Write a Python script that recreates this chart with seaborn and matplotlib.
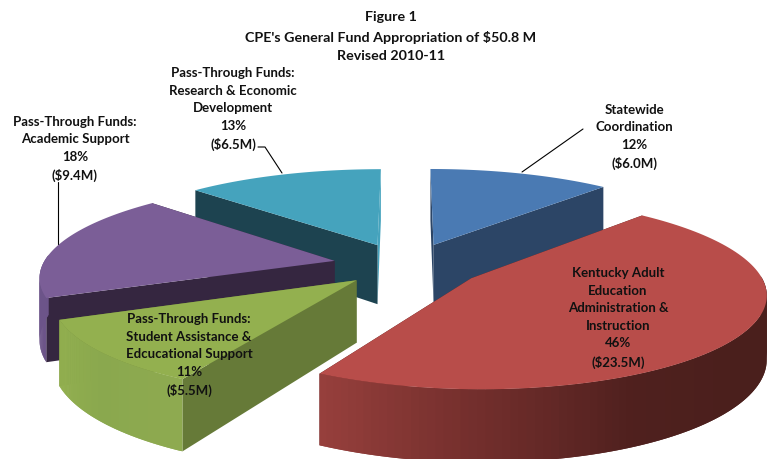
import numpy as np
import seaborn as sns
from matplotlib import pyplot as plt

names = ["Statewide\nCoordination", "Kentucky Adult\nEducation\nAdministration &\nInstruction",
         "Pass-Through Funds:\nStudent Assistance &\nEdcucational Support", "Pass-Through Funds:\nAcademic Support",
         "Pass-Through Funds:\nResearch & Economic\nDevelopment"]
millions = [6.0, 23.5, 5.5, 9.4, 6.5]
percents = [12, 46, 11, 18, 13]

top_colors = ["#4a7ab3", "#b84d4a", "#93b04f", "#7b5e97", "#45a3bd"]
wall_colors = ["#2c4566", "#4a1f1c", "#667a38", "#352640", "#1d4350"]
end_wall_colors = ["#2c4566", "#4a1f1c", "#667a38", "#352640", "#45a3bd"]
arc_colors = [["#2c4566", "#2c4566"],
              ["#4a1f1c", "#4a1f1c", "#4a1f1c", "#4a1f1c", "#4f201e", "#722e2c", "#963f3c"],
              ["#8eaa50", "#8aa84e", "#93b04f"], ["#6c5489", "#6c5489"], ["#1d4350", "#1d4350"]]
draw_order = [4, 0, 3, 2, 1]
shifts = [3, 7, 4, -3, -2]
sizes = [1, 0.975, 1, 1, 1]
label_pos = [(634, 137), (618, 318), (189, 355), (75, 149), (233, 109)]

# projection of the tilted pie, in pixels
cx, cy = 406, 266
radius, tilt, persp = 292, 0.318, 0.15
explode, depth = 0.24, 61


def project(angle, r, mid, shift):
    x = explode * np.sin(mid) + r * np.sin(angle)
    y = explode * np.cos(mid) + r * np.cos(angle)
    w = 1 + persp * y
    return cx + shift + radius * x / w, cy - radius * tilt * y / w, depth / w


def wall(ax, p, q, color):
    ax.fill([p[0], q[0], q[0], p[0]], [p[1], q[1], q[1] + q[2], p[1] + p[2]],
            color=color, lw=0)


def draw_slice(ax, start, end, i):
    mid = (start + end) / 2
    angles = np.linspace(start, end, 120)
    apex = project(0, 0, mid, shifts[i])
    edge = [project(a, sizes[i], mid, shifts[i]) for a in angles]

    wall(ax, apex, edge[-1], end_wall_colors[i])
    wall(ax, apex, edge[0], wall_colors[i])
    shades = sns.blend_palette(arc_colors[i], len(edge) - 1)
    # only the front of the rim shows, each strip reaches over the next so no seams
    for j in range(len(edge) - 1):
        if np.cos(angles[j]) < 0.05:
            wall(ax, edge[j], edge[min(j + 2, len(edge) - 1)], shades[j])

    xs = [apex[0]] + [p[0] for p in edge]
    ys = [apex[1]] + [p[1] for p in edge]
    ax.fill(xs, ys, color=top_colors[i], lw=0)


sns.set_theme(style="white")
plt.rcParams['font.family'] = ['Lato', 'DejaVu Sans']

fig = plt.figure(figsize=(7.74, 4.6), dpi=100)
ax = fig.add_axes([0, 0, 1, 1])
ax.set_xlim(0, 774)
ax.set_ylim(460, 0)
ax.axis("off")

edges = np.concatenate([[0], np.cumsum(millions)]) / sum(millions) * 2 * np.pi
for i in draw_order:
    draw_slice(ax, edges[i], edges[i + 1], i)

# leader lines
ax.plot([522, 583], [173, 130], color="black", lw=0.8)
ax.plot([258, 265, 282], [148, 148, 174], color="black", lw=0.8)
ax.plot([58, 58], [183, 245], color="black", lw=0.8)

for i in range(len(names)):
    text = f"{names[i]}\n{percents[i]}%\n(${millions[i]:.1f}M)"
    ax.text(label_pos[i][0], label_pos[i][1], text, ha="center", va="center",
            fontsize=9.5, fontweight="bold", color="#111111", linespacing=1.55)

ax.text(391, 17, "Figure 1", ha="center", va="center", fontsize=10.3, fontweight="bold", color="#111111")
ax.text(391, 37, "CPE's General Fund Appropriation of $50.8 M", ha="center", va="center",
        fontsize=10.3, fontweight="bold", color="#111111")
ax.text(391, 56, "Revised 2010-11", ha="center", va="center", fontsize=10.3, fontweight="bold", color="#111111")

fig.savefig("out.png", dpi=100)
